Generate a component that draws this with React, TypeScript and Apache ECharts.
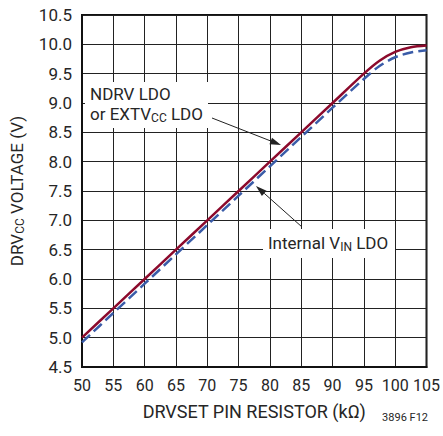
import React, { useEffect, useRef } from "react";
import * as echarts from "echarts";

const resistor = [50, 55, 60, 65, 70, 75, 80, 85, 90, 95, 97.5, 100, 102.5, 105];
const ndrvLdo = [5.0, 5.5, 6.0, 6.5, 7.0, 7.5, 8.0, 8.5, 9.0, 9.5, 9.72, 9.87, 9.95, 9.98];
const internalLdo = [4.92, 5.42, 5.92, 6.42, 6.92, 7.42, 7.92, 8.42, 8.92, 9.41, 9.63, 9.78, 9.86, 9.9];

const FONT = "Roboto, 'Liberation Sans', sans-serif";
const RED = "#8c0a2c";
const BLUE = "#3a5ca8";
const TXT = "#262626";

export default function App() {
  const ref = useRef<HTMLDivElement>(null);
  useEffect(() => {
    if (!ref.current) return;
    const chart = echarts.init(ref.current, undefined, { renderer: "svg" });
    const arrow = (x1: number, y1: number, tx: number, ty: number) => {
      const dx = tx - x1, dy = ty - y1;
      const len = Math.sqrt(dx * dx + dy * dy);
      const ux = dx / len, uy = dy / len;
      const bx = tx - 11 * ux, by = ty - 11 * uy;
      const px = -uy * 3.5, py = ux * 3.5;
      return [
        { type: "line", shape: { x1, y1, x2: bx, y2: by }, style: { stroke: "#222", lineWidth: 1 }, z: 100 },
        { type: "polygon", shape: { points: [[tx, ty], [bx + px, by + py], [bx - px, by - py]] }, style: { fill: "#222" }, z: 100 },
      ];
    };
    chart.setOption({
      animation: false,
      grid: { left: 77, right: 15, top: 15, bottom: 69, show: true, borderColor: "#111", borderWidth: 2, backgroundColor: "#fff" },
      xAxis: {
        type: "value", min: 50, max: 105, interval: 5,
        axisLine: { show: true, lineStyle: { color: "#111", width: 2 } },
        axisTick: { show: false },
        splitLine: { show: true, lineStyle: { color: "#222", width: 1 } },
        axisLabel: { color: TXT, fontSize: 16, fontFamily: FONT, margin: 10 },
        name: "DRVSET PIN RESISTOR (kΩ)", nameLocation: "middle", nameGap: 35,
        nameTextStyle: { color: TXT, fontSize: 18, fontFamily: FONT },
      },
      yAxis: {
        type: "value", min: 4.5, max: 10.5, interval: 0.5,
        axisLine: { show: true, lineStyle: { color: "#111", width: 2 } },
        axisTick: { show: false },
        splitLine: { show: true, lineStyle: { color: "#222", width: 1 } },
        axisLabel: { color: TXT, fontSize: 17, fontFamily: FONT, margin: 10, formatter: (v: number) => v.toFixed(1) },
        name: "DRV{s|CC} VOLTAGE (V)", nameLocation: "middle", nameGap: 56,
        nameTextStyle: {
          color: TXT, fontSize: 17, fontFamily: FONT,
          rich: { s: { fontSize: 12, fontFamily: FONT, color: TXT, verticalAlign: "bottom", padding: [7, 0, 0, 0] } },
        },
      },
      series: [
        {
          type: "line", name: "NDRV LDO or EXTVCC LDO", data: resistor.map((x, i) => [x, ndrvLdo[i]]),
          smooth: 0.3, showSymbol: false, lineStyle: { color: RED, width: 2.5 }, z: 3,
        },
        {
          type: "line", name: "Internal VIN LDO", data: resistor.map((x, i) => [x, internalLdo[i]]),
          smooth: 0.3, showSymbol: false, lineStyle: { color: BLUE, width: 2.5, type: [11, 5] }, z: 2,
        },
      ],
      graphic: [
        { type: "rect", shape: { x: 85, y: 82, width: 123, height: 46 }, style: { fill: "#fff" }, z: 90 },
        {
          type: "text", x: 90, y: 84, z: 101,
          style: {
            text: "{a|NDRV LDO}\n{a|or EXTV}{s|CC}{a| LDO}",
            rich: {
              a: { fontSize: 17, fontFamily: FONT, fill: TXT, lineHeight: 20 },
              s: { fontSize: 12, fontFamily: FONT, fill: TXT, lineHeight: 20, padding: [8, 0, 0, 0] },
            },
          },
        },
        { type: "rect", shape: { x: 263, y: 229, width: 132, height: 29 }, style: { fill: "#fff" }, z: 90 },
        {
          type: "text", x: 268, y: 233, z: 101,
          style: {
            text: "{a|Internal V}{s|IN}{a| LDO}",
            rich: {
              a: { fontSize: 17, fontFamily: FONT, fill: TXT, lineHeight: 20 },
              s: { fontSize: 12, fontFamily: FONT, fill: TXT, lineHeight: 20, padding: [8, 0, 0, 0] },
            },
          },
        },
        ...arrow(212, 118, 281, 145),
        ...arrow(302, 227, 256, 186),
        {
          type: "text", x: 428, y: 412, z: 101,
          style: { text: "3896 F12", fontSize: 11, fontFamily: FONT, fill: TXT, textAlign: "right" },
        },
      ],
    });
    return () => chart.dispose();
  }, []);
  return <div ref={ref} style={{ width: 443, height: 436, position: "absolute", left: 0, top: 0 }} />;
}
